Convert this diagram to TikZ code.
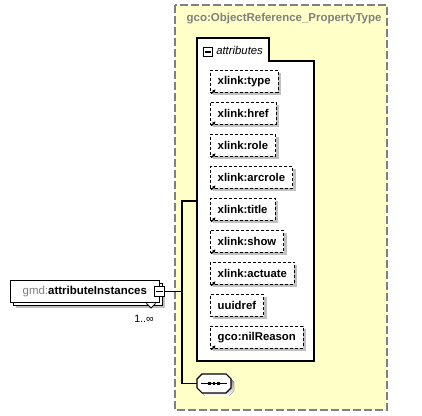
\documentclass[tikz,border=0pt]{standalone}
\usepackage{fontspec}
\setmainfont{Liberation Sans}
\usetikzlibrary{shadows,arrows.meta}
\definecolor{typefill}{RGB}{255,255,200}
\definecolor{typeline}{RGB}{128,128,128}
\definecolor{shade}{RGB}{192,192,192}

\begin{document}
\begin{tikzpicture}[x=0.75pt,y=0.75pt,yscale=-1,xscale=1,
  attr/.style={draw, dash pattern=on 2.25pt off 1.5pt, fill=white, anchor=north west, inner xsep=5.6pt, inner ysep=0pt, minimum height=16.5pt, font=\fontsize{8.5}{10}\selectfont\bfseries, drop shadow={shadow xshift=2.25pt, shadow yshift=-2.25pt, fill=shade, opacity=1}},
  elem/.style={draw, fill=white, anchor=north west, inner sep=0pt, minimum width=111.75pt, minimum height=16.5pt, font=\fontsize{8.6}{10}\selectfont, drop shadow={shadow xshift=4.5pt, shadow yshift=-4.5pt, fill=shade, opacity=1}, copy shadow={shadow xshift=2.25pt, shadow yshift=-2.25pt}},
  minusbox/.style={draw, fill=white, line width=0.8pt, minimum size=7.2pt, inner sep=0pt, path picture={\draw[line width=0.9pt] ([xshift=1.3pt]path picture bounding box.west) -- ([xshift=-1.3pt]path picture bounding box.east);}},
  refarrow/.style={-{Stealth[length=2.4pt,width=2.4pt]}, line width=0.9pt},
  ]
\useasboundingbox (0,0) rectangle (422,416);

%Complex type box
\draw [typeline, fill=typefill, line width=1pt, dash pattern=on 6pt off 2.25pt] (175,5) rectangle (387,410);
% Text Node
\node [anchor=west, typeline, font=\fontsize{8.6}{10}\selectfont\bfseries] (typename) at (182,19) {gco:ObjectReference\_PropertyType};

%Attributes group
\draw [fill=white, line width=0.8pt] (197,38) -- (269,38) -- (269,61) -- (314,61) -- (314,361) -- (197,361) -- cycle;
\coordinate (attrin) at (197,201);
\node [minusbox] (amin) at (208,52) {};
\node [anchor=west, inner sep=0pt, font=\fontsize{8.5}{10}\selectfont\itshape] (alabel) at (216,50.5) {attributes};

%Attributes
\foreach \lbl/\isref [count=\i from 0] in {xlink:type/1, xlink:href/1, xlink:role/1, xlink:arcrole/1, xlink:title/1, xlink:show/1, xlink:actuate/1, uuidref/0, gco:nilReason/1}{
  \node [attr] (at\i) at (210,70+32*\i) {\lbl};
  \ifnum\isref=1
    \draw [refarrow] ([xshift=0.9pt,yshift=0.9pt]at\i.south west) -- ++(3.2pt,-3.2pt);
  \fi
}

%Element
\node [elem] (elem) at (10,280) {\textcolor{typeline}{gmd:}\textbf{attributeInstances}};
\draw [fill=white, line width=0.6pt] (146.5,303.5) -- (151,308) -- (155.5,303.5);
\node [minusbox] (emin) at (elem.east) {};
\node [font=\fontsize{8}{10}\selectfont, inner sep=0pt] (mult) at (144,318.5) {1..∞};

%Sequence compositor
\node [inner sep=0pt, minimum width=25.5pt, minimum height=14.25pt] (seq) at (214,383.5) {};
\fill [shade] (205,377) -- (229,377) -- (234,382) -- (234,391) -- (229,396) -- (205,396) -- (200,391) -- (200,382) -- cycle;
\draw [fill=white, line width=0.8pt] (202,374) -- (226,374) -- (231,379) -- (231,388) -- (226,393) -- (202,393) -- (197,388) -- (197,379) -- cycle;
\draw [line width=0.8pt] ([xshift=-9.5pt]seq.center) -- ([xshift=9.5pt]seq.center);
\foreach \d in {-3.6,0,3.6}
  \fill ([xshift=\d pt]seq.center) +(-1.1pt,-1.1pt) rectangle +(1.1pt,1.1pt);

%Connectors
\coordinate (bus) at (182,201);
\draw [line width=0.8pt] (attrin) -- (bus) |- (seq.west);
\draw [line width=0.8pt] (emin.east) -- (emin.east -| bus);

\end{tikzpicture}
\end{document}
